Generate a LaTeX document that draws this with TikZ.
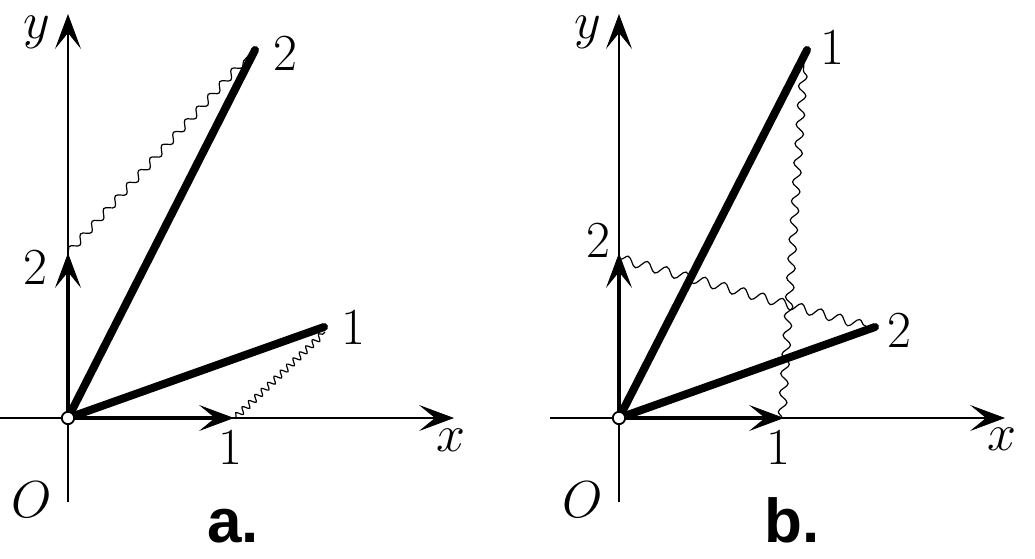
\RequirePackage{fix-cm}
\documentclass[tikz,border=0pt]{standalone}
\usepackage{fontspec}
\newfontfamily\capfont{Liberation Sans}
\usetikzlibrary{arrows.meta,decorations.pathmorphing}
\begin{document}
\begin{tikzpicture}[x=0.5pt,y=-0.5pt,
  lab/.style={inner sep=0pt,font=\fontsize{26}{28}\selectfont},
  captext/.style={inner sep=0pt,anchor=base,font=\capfont\bfseries\fontsize{31}{33}\selectfont},
  arr/.style={-{Stealth[length=17.5pt,width=13pt,inset=8pt,line width=0.4pt]}},
  axis/.style={arr,line width=0.7pt},
  unitvec/.style={arr,line width=1.8pt},
  rod/.style={line width=4pt,line cap=round},
  spring/.style={line width=0.6pt,decorate},
  orig/.style={circle,draw,fill=white,line width=0.9pt,inner sep=0pt,minimum size=6.2pt}]
\useasboundingbox (0,0) rectangle (1035,558);
% ---------- panel a ----------
\coordinate (Oa) at (68,418);
\coordinate (xaL) at (0,418);
\coordinate (xaR) at (454,418);
\coordinate (yaB) at (68,502);
\coordinate (yaT) at (68,14);
\coordinate (exa) at (234,418);
\coordinate (eya) at (68,253);
\coordinate (r1a) at (324,327);
\coordinate (r2a) at (255,50);
\coordinate (s1a) at (236,417);
\coordinate (t1a) at (325,332);
\coordinate (s2a) at (68,253);
\coordinate (t2a) at (249,55);
\draw[axis] (xaL) -- (xaR);
\draw[axis] (yaB) -- (yaT);
\draw[spring,decoration={snake,segment length=4.4pt,amplitude=1.6pt}] (s1a) -- (t1a);
\draw[spring,decoration={snake,segment length=8.6pt,amplitude=1.8pt}] (s2a) -- (t2a);
\draw[rod] (Oa) -- (r1a);
\draw[rod] (Oa) -- (r2a);
\draw[unitvec] (Oa) -- (exa);
\draw[unitvec] (Oa) -- (eya);
\node[orig] (oa) at (Oa) {};
\node[lab] (ya) at (37,32) {$y$};
\node[lab] (xa) at (451,440) {$x$};
\node[lab] (Oalab) at (32,500) {$O$};
\node[lab] (n2a) at (285,53) {2};
\node[lab] (n2aL) at (35,267) {2};
\node[lab] (n1a) at (353,327) {1};
\node[lab] (n1aB) at (230,447) {1};
\node[captext] (capa) at (233,542) {a.};
% ---------- panel b ----------
\coordinate (Ob) at (619,418);
\coordinate (xbL) at (550,418);
\coordinate (xbR) at (1005,418);
\coordinate (ybB) at (619,502);
\coordinate (ybT) at (619,14);
\coordinate (exb) at (784,418);
\coordinate (eyb) at (619,253);
\coordinate (r1b) at (807,50);
\coordinate (r2b) at (875,327);
\coordinate (s1b) at (782,418);
\coordinate (t1b) at (804,62);
\coordinate (s2b) at (621,259);
\coordinate (t2b) at (866,326);
\draw[axis] (xbL) -- (xbR);
\draw[axis] (ybB) -- (ybT);
\draw[spring,decoration={snake,segment length=9.6pt,amplitude=2pt}] (s1b) -- (t1b);
\draw[spring,decoration={snake,segment length=10pt,amplitude=2.3pt}] (s2b) -- (t2b);
\draw[rod] (Ob) -- (r1b);
\draw[rod] (Ob) -- (r2b);
\draw[unitvec] (Ob) -- (exb);
\draw[unitvec] (Ob) -- (eyb);
\node[orig] (ob) at (Ob) {};
\node[lab] (yb) at (588,32) {$y$};
\node[lab] (xb) at (1002,439) {$x$};
\node[lab] (Oblab) at (583,500) {$O$};
\node[lab] (n1b) at (832,47) {1};
\node[lab] (n2bL) at (598,240) {2};
\node[lab] (n2b) at (899,330) {2};
\node[lab] (n1bB) at (778,447) {1};
\node[captext] (capb) at (792,542) {b.};
\end{tikzpicture}
\end{document}
